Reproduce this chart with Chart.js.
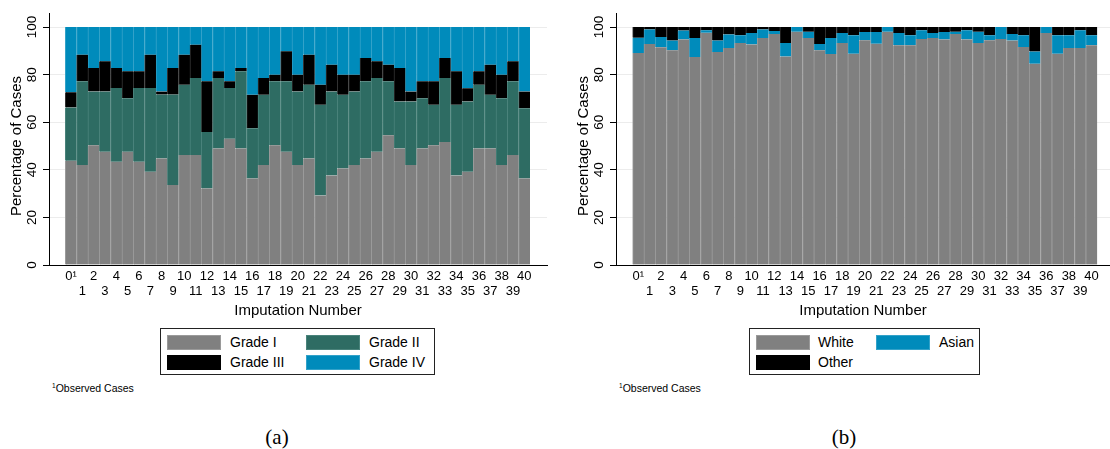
<!DOCTYPE html>
<html>
<head>
<meta charset="utf-8">
<script src="https://cdn.jsdelivr.net/npm/chart.js@4"></script>
<style>
    body { margin: 0; background: #fff; width: 1110px; height: 449px; overflow: hidden; position: relative; font-family: 'Liberation Sans', Arial, sans-serif; }
    .panel { position: absolute; top: 0; height: 320px; }
    .legend { position: absolute; border: 1px solid #222; box-sizing: border-box; }
    .legend .sw { position: absolute; width: 54px; height: 15px; box-sizing: border-box; }
    .legend .lb { position: absolute; font-size: 14px; line-height: 15px; color: #000; white-space: nowrap; }
    .note { position: absolute; font-size: 10.5px; color: #000; white-space: nowrap; }
    .note sup { font-size: 6.5px; vertical-align: 4px; }
    .caption { position: absolute; top: 425px; width: 60px; text-align: center; font-family: 'Liberation Serif', 'Times New Roman', serif; font-size: 21px; }
</style>
</head>
<body>
<div class="panel" style="left:0; width:555px"><canvas id="chartA"></canvas></div>
<div class="panel" style="left:567px; width:543px"><canvas id="chartB"></canvas></div>

<div class="legend" style="left:160px; top:328px; width:275px; height:47px">
    <div class="sw" style="left:6px; top:6px; background:#808080; border:1px solid #9a9a9a"></div>
    <div class="lb" style="left:69px; top:6px">Grade I</div>
    <div class="sw" style="left:145px; top:6px; background:#2e6c63; border:1px solid #4a837b"></div>
    <div class="lb" style="left:208px; top:6px">Grade II</div>
    <div class="sw" style="left:6px; top:26px; background:#000"></div>
    <div class="lb" style="left:69px; top:26px">Grade III</div>
    <div class="sw" style="left:145px; top:26px; background:#008bbb; border:1px solid #33a2c9"></div>
    <div class="lb" style="left:208px; top:26px">Grade IV</div>
</div>
<div class="legend" style="left:749px; top:328px; width:231px; height:47px">
    <div class="sw" style="left:6px; top:6px; background:#808080; border:1px solid #9a9a9a"></div>
    <div class="lb" style="left:68px; top:6px">White</div>
    <div class="sw" style="left:126px; top:6px; background:#008bbb; border:1px solid #33a2c9"></div>
    <div class="lb" style="left:189px; top:6px">Asian</div>
    <div class="sw" style="left:6px; top:26px; background:#000"></div>
    <div class="lb" style="left:68px; top:26px">Other</div>
</div>

<div class="note" style="left:52px; top:382px"><sup>1</sup>Observed Cases</div>
<div class="note" style="left:619px; top:382px"><sup>1</sup>Observed Cases</div>
<div class="caption" style="left:247px">(a)</div>
<div class="caption" style="left:814px">(b)</div>

<script>
// imputation 0 = observed cases, 1..40 = imputations
const imputations = Array.from({length: 41}, (_, i) => i);
const yTicks = [0, 20, 40, 60, 80, 100];

// panel (a): tumour grade, % of cases
const gradeI   = [43.8, 42.0, 50.3, 47.6, 43.4, 47.6, 43.4, 39.2, 44.8, 33.6, 46.2, 46.2, 32.2, 49.0, 53.1, 49.0, 36.4, 42.0, 50.3, 47.6,
                  42.0, 44.8, 29.2, 37.6, 40.6, 42.0, 44.8, 47.6, 54.5, 49.0, 42.0, 49.0, 50.3, 51.7, 37.6, 39.2, 49.0, 49.0, 42.0, 46.2, 36.4];
const gradeII  = [22.4, 35.2, 22.6, 25.3, 31.0, 22.5, 31.0, 35.2, 26.8, 38.0, 29.5, 32.4, 23.7, 29.6, 21.3, 32.4, 21.1, 29.5, 26.9, 29.6,
                  30.9, 31.0, 38.1, 35.3, 30.9, 30.9, 32.4, 31.0, 22.7, 19.7, 26.7, 21.1, 17.0, 26.9, 29.7, 29.5, 26.8, 22.5, 28.1, 31.0, 29.5];
const gradeIII = [6.4, 11.2, 9.9, 12.7, 8.4, 11.3, 7.0, 14.0, 1.3, 11.2, 12.7, 14.0, 21.3, 2.8, 2.8, 1.4, 14.0, 7.1, 2.8, 12.6,
                  7.1, 12.6, 8.5, 11.3, 8.5, 7.1, 9.8, 7.0, 7.0, 14.1, 4.2, 7.1, 9.9, 8.4, 14.1, 5.6, 5.6, 12.7, 9.9, 8.4, 7.0];
const gradeIV  = [27.4, 11.6, 17.2, 14.4, 17.2, 18.6, 18.6, 11.6, 27.1, 17.2, 11.6, 7.4, 22.8, 18.6, 22.8, 17.2, 28.5, 21.4, 20.0, 10.2,
                  20.0, 11.6, 24.2, 15.8, 20.0, 20.0, 13.0, 14.4, 15.8, 17.2, 27.1, 22.8, 22.8, 13.0, 18.6, 25.7, 18.6, 15.8, 20.0, 14.4, 27.1];

// panel (b): race, % of cases
const white = [89.1, 92.9, 91.5, 90.2, 94.8, 87.4, 97.6, 89.5, 91.2, 93.3, 92.7, 95.4, 97.1, 87.6, 98.0, 95.4, 90.2, 88.7, 93.3, 88.8,
               94.4, 93.0, 98.0, 92.3, 92.3, 95.0, 95.4, 94.8, 97.1, 94.8, 93.3, 94.4, 95.0, 94.3, 91.6, 84.6, 97.5, 88.8, 91.2, 91.2, 92.3];
const asian = [6.4, 6.1, 4.3, 4.1, 3.7, 8.0, 1.0, 4.8, 5.7, 3.2, 4.8, 3.6, 1.2, 5.7, 2.0, 2.6, 2.7, 6.7, 4.2, 7.8,
               3.5, 4.9, 2.0, 5.2, 4.3, 3.6, 2.1, 3.1, 0.9, 3.8, 4.7, 2.1, 5.0, 2.8, 4.9, 5.1, 2.5, 7.8, 5.4, 7.4, 4.2];
const other = [4.5, 1.0, 4.2, 5.7, 1.5, 4.6, 1.4, 5.7, 3.1, 3.5, 2.5, 1.0, 1.7, 6.7, 0.0, 2.0, 7.1, 4.6, 2.5, 3.4,
               2.1, 2.1, 0.0, 2.5, 3.4, 1.4, 2.5, 2.1, 2.0, 1.4, 2.0, 3.5, 0.0, 2.9, 3.5, 10.3, 0.0, 3.4, 3.4, 1.4, 3.5];

Chart.defaults.font.family = "'Liberation Sans', Arial, sans-serif";
Chart.defaults.color = '#000';
Chart.defaults.animation = false;

function series(label, values, fill, edge) {
    return {
        label: label,
        data: values.map((v, i) => ({x: imputations[i], y: v})),
        backgroundColor: fill,
        borderColor: edge,
        borderWidth: {left: 1, right: 0, top: 0, bottom: 0},
        borderSkipped: false,
        barPercentage: 1,
        categoryPercentage: 1
    };
}

// y labels in the Stata style: rotated, reading upwards, plus the axis title
const stataAxis = {
    id: 'stataAxis',
    afterDraw(chart) {
        const ctx = chart.ctx, y = chart.scales.y;
        ctx.save();
        ctx.fillStyle = '#000';
        ctx.textAlign = 'center';
        ctx.textBaseline = 'middle';
        ctx.font = "13.5px 'Liberation Sans', Arial, sans-serif";
        yTicks.forEach(v => {
            ctx.save();
            ctx.translate(32.5, y.getPixelForValue(v));
            ctx.rotate(-Math.PI / 2);
            ctx.fillText(String(v), 0, 0);
            ctx.restore();
        });
        ctx.font = "15px 'Liberation Sans', Arial, sans-serif";
        ctx.translate(17, (y.getPixelForValue(0) + y.getPixelForValue(100)) / 2);
        ctx.rotate(-Math.PI / 2);
        ctx.fillText('Percentage of Cases', 0, 0);
        ctx.restore();
    }
};

function makeChart(id, datasets, xMin, xMax, padRight) {
    return new Chart(document.getElementById(id), {
        type: 'bar',
        data: { datasets: datasets },
        plugins: [stataAxis],
        options: {
            responsive: true,
            maintainAspectRatio: false,
            layout: { padding: { top: 13, right: padRight, bottom: 0, left: 0 } },
            plugins: { legend: { display: false }, tooltip: { enabled: false } },
            scales: {
                x: {
                    type: 'linear',
                    offset: false,
                    stacked: true,
                    min: xMin,
                    max: xMax,
                    afterBuildTicks: s => { s.ticks = imputations.map(v => ({value: v})); },
                    afterFit: s => { s.height = 55; },
                    grid: { display: false, drawTicks: false, offset: false },
                    border: { color: '#000', width: 1, z: 1 },
                    ticks: {
                        autoSkip: false,
                        maxRotation: 0,
                        minRotation: 0,
                        padding: 4,
                        font: { size: 13, lineHeight: 1.15 },
                        callback: v => {
                            const t = v === 0 ? '0\u00b9' : String(v);
                            return v % 2 === 0 ? t : ['', t];
                        }
                    },
                    title: { display: true, text: 'Imputation Number', font: { size: 15, lineHeight: 1.2 }, padding: 0 }
                },
                y: {
                    stacked: true,
                    min: 0,
                    max: 105.9,
                    afterBuildTicks: s => { s.ticks = yTicks.map(v => ({value: v})); },
                    afterFit: s => { s.width = 49; },
                    grid: { color: '#ececec', tickColor: '#000', tickLength: 6, lineWidth: 1 },
                    border: { color: '#000', width: 1 },
                    ticks: { display: false }
                }
            }
        }
    });
}

makeChart('chartA', [
    series('Grade I', gradeI, '#808080', '#9a9a9a'),
    series('Grade II', gradeII, '#2e6c63', '#4a837b'),
    series('Grade III', gradeIII, '#000000', '#333333'),
    series('Grade IV', gradeIV, '#008bbb', '#33a2c9')
], -1.94, 42.0, 8);

makeChart('chartB', [
    series('White', white, '#808080', '#9a9a9a'),
    series('Asian', asian, '#008bbb', '#33a2c9'),
    series('Other', other, '#000000', '#333333')
], -1.97, 41.63, 0);
</script>
</body>
</html>
